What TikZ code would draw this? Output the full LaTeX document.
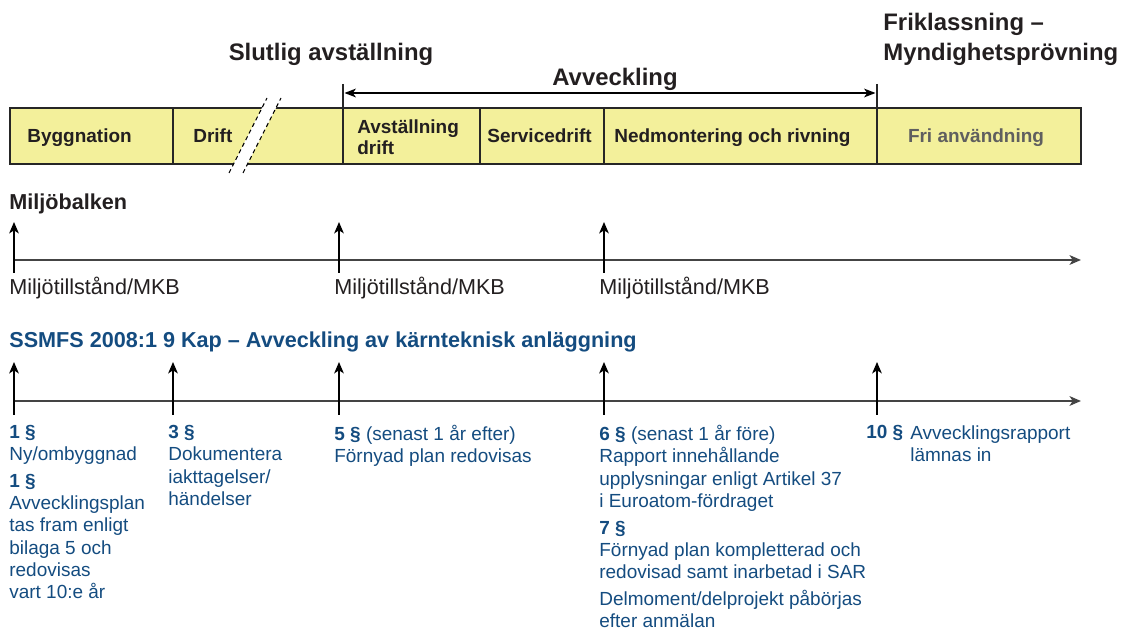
\documentclass[tikz,border=0pt]{standalone}
\usepackage{fontspec}
\setmainfont{Liberation Sans}
\usepackage{tikz}
\usetikzlibrary{arrows.meta}

\definecolor{bandfill}{RGB}{243,240,155}
\definecolor{ssmblue}{RGB}{20,76,128}
\definecolor{axisgray}{RGB}{68,68,68}
\definecolor{frigray}{RGB}{95,95,95}
\definecolor{inkblack}{RGB}{35,31,32}

\begin{document}
\begin{tikzpicture}[x=0.02cm, y=-0.02cm, text=inkblack,
    tip/.style={-{Stealth[length=6.5pt,width=5.5pt,inset=1.8pt]}},
    heading/.style={font=\fontsize{13.6}{17}\selectfont\bfseries, inner sep=0},
    bandlabel/.style={font=\fontsize{10.8}{12}\selectfont\bfseries, inner sep=0, anchor=base west},
    lawtext/.style={font=\fontsize{10.8}{12.7}\selectfont, text=ssmblue, align=left, inner sep=0, anchor=north west},
    tick/.style={tip, line width=0.75pt},
    axis/.style={tip, axisgray, line width=1.1pt}]

    \useasboundingbox (0,0) rectangle (1126,631);

    % Phase band
    \draw[fill=bandfill, draw=black!85, line width=0.85pt] (10,108) rectangle (1081,164);
    \foreach \x in {173,480,604}
        \draw[black!85, line width=0.7pt] (\x,108) -- (\x,164);
    \draw[black!85, line width=1.4pt] (343,84) -- (343,164);
    \draw[black!85, line width=1.4pt] (877,84) -- (877,164);

    % Break in the Drift phase
    \fill[white] (229,173) -- (267,98) -- (281,98) -- (243,173) -- cycle;
    \draw[dash pattern=on 2.4pt off 1.8pt, line width=0.6pt] (229,173) -- (267,98) (243,173) -- (281,98);

    % Avveckling span
    \coordinate (avv-start) at (344.5,93);
    \coordinate (avv-end) at (875.5,93);
    \draw[{Stealth[length=6.5pt,width=5pt,inset=1.8pt]}-{Stealth[length=6.5pt,width=5pt,inset=1.8pt]}, line width=0.7pt] (avv-start) -- (avv-end);

    % Headings
    \node[heading, anchor=base] (slutlig) at (331,61) {Slutlig avställning};
    \node[heading, anchor=base] (avveckling) at (615,86) {Avveckling};
    \node[heading, anchor=north west, align=left] (friklassning) at (883,13) {Friklassning –\\Myndighetsprövning};

    % Phase labels
    \node[bandlabel] (byggnation) at (27,143) {Byggnation};
    \node[bandlabel] (drift) at (193,143) {Drift};
    \node[bandlabel, anchor=north west, align=left] (avstallning) at (357,119.5) {Avställning\\drift};
    \node[bandlabel] (servicedrift) at (487,143) {Servicedrift};
    \node[bandlabel] (nedmontering) at (614,143) {Nedmontering och rivning};
    \node[bandlabel, anchor=base, text=frigray] (fri) at (976,143) {Fri användning};

    % Miljöbalken timeline
    \node[font=\fontsize{12.3}{14}\selectfont\bfseries, anchor=base west, inner sep=0] (miljobalken) at (9,210) {Miljöbalken};
    \coordinate (mb-start) at (14,260);
    \coordinate (mb-end) at (1081,260);
    \draw[axis] (mb-start) -- (mb-end);
    \foreach \x/\name in {14/a, 339/b, 604/c} {
        \coordinate (mb-\name-foot) at (\x,273);
        \coordinate (mb-\name-head) at (\x,222);
        \draw[tick] (mb-\name-foot) -- (mb-\name-head);
        \node[font=\fontsize{12.3}{14}\selectfont, anchor=base west, inner sep=0] (mkb-\name) at ({\x-5},295) {Miljötillstånd/MKB};
    }

    % SSMFS timeline
    \node[font=\fontsize{12.3}{14}\selectfont\bfseries, text=ssmblue, anchor=base west, inner sep=0] (ssmfs) at (9,348) {SSMFS 2008:1 9 Kap – Avveckling av kärnteknisk anläggning};
    \coordinate (ss-start) at (14,401);
    \coordinate (ss-end) at (1081,401);
    \draw[axis] (ss-start) -- (ss-end);
    \foreach \x/\name in {14/a, 173/b, 339/c, 604/d, 877/e} {
        \coordinate (ss-\name-foot) at (\x,415);
        \coordinate (ss-\name-head) at (\x,362);
        \draw[tick] (ss-\name-foot) -- (ss-\name-head);
    }

    % Paragraph texts
    \node[lawtext] (par1) at (9,425) {\textbf{1 §}\\Ny/ombyggnad\\[2.3pt]\textbf{1 §}\\Avvecklingsplan\\tas fram enligt\\bilaga 5 och\\redovisas\\vart 10:e år};
    \node[lawtext] (par3) at (168,425) {\textbf{3 §}\\Dokumentera\\iakttagelser/\\händelser};
    \node[lawtext] (par5) at (334,425) {\textbf{5 §} (senast 1 år efter)\\Förnyad plan redovisas};
    \node[lawtext] (par6) at (599,425) {\textbf{6 §} (senast 1 år före)\\Rapport innehållande\\upplysningar enligt Artikel 37\\i Euroatom-fördraget\\[2.5pt]\textbf{7 §}\\Förnyad plan kompletterad och\\redovisad samt inarbetad i SAR\\[2.5pt]Delmoment/delprojekt påbörjas\\efter anmälan};
    \node[lawtext] (par10) at (866,425) {\textbf{10 §}};
    \node[lawtext] (par10text) at (910,425) {Avvecklingsrapport\\lämnas in};
\end{tikzpicture}
\end{document}
